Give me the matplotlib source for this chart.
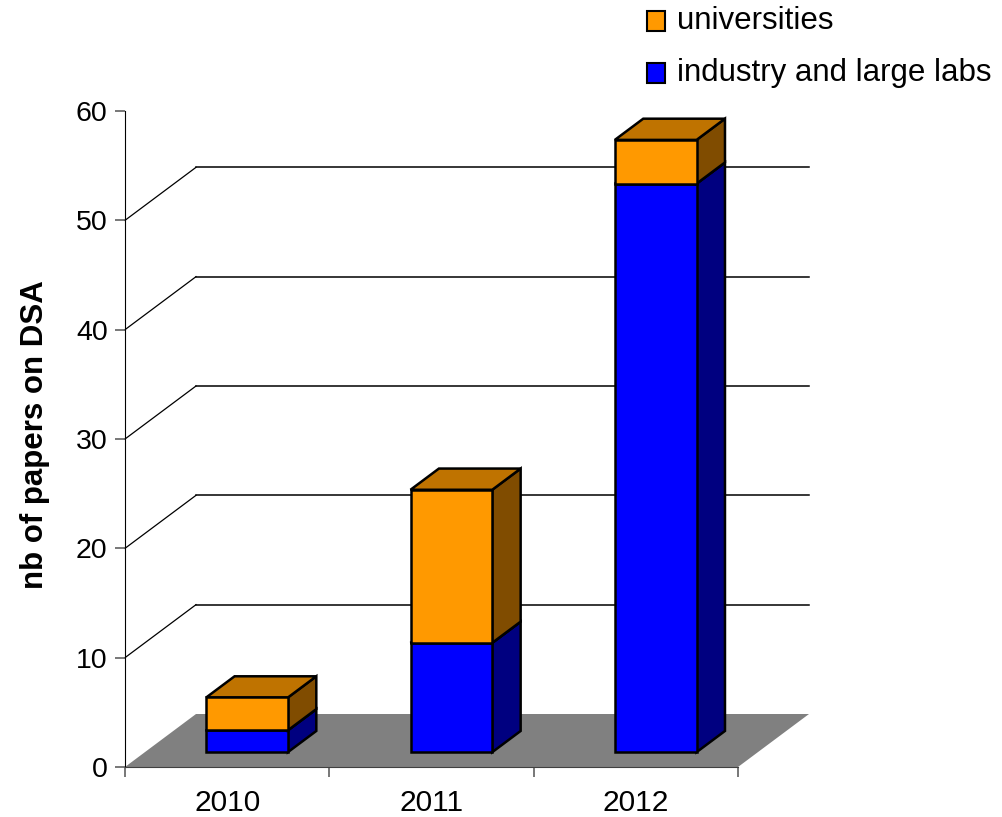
import matplotlib
matplotlib.use("Agg")
import matplotlib.pyplot as plt
from matplotlib.patches import Polygon, Rectangle

plt.rcParams['font.family'] = ['Liberation Sans', 'DejaVu Sans']

# ---- data ----
years = ['2010', '2011', '2012']
industry = [2, 10, 52]
universities = [3, 14, 4]
series_names = ['universities', 'industry and large labs']
y_ticks = [0, 10, 20, 30, 40, 50, 60]
y_label = 'nb of papers on DSA'

# ---- styles ----
front_cols = {'industry': '#0000FF', 'universities': '#FF9900'}
side_cols = {'industry': '#000080', 'universities': '#804C00'}
top_cols = {'industry': '#0000C0', 'universities': '#BF7300'}
floor_col = '#808080'

W, H = 1002, 817
fig = plt.figure(figsize=(W / 100, H / 100), dpi=100)
ax = fig.add_axes([125 / W, (H - 767) / H, 613 / W, 656 / H])
ax.set_xlim(-0.5, len(years) - 0.5)
ax.set_ylim(0, 60)

# depth projection (data units per full depth)
DX = 71 / (613 / 3)
DY = 53 / (656 / 60)
Z0, Z1 = 0.28, 0.68
BW = 0.4


def proj(x, y, z):
    return (x + z * DX, y + z * DY)


xl, xr = ax.get_xlim()
# walls gridlines
for v in y_ticks[1:-1]:
    ax.plot(*zip(proj(xl, v, 0), proj(xl, v, 1)), color='black', lw=0.9,
            clip_on=False, zorder=1)
    ax.plot(*zip(proj(xl, v, 1), proj(xr, v, 1)), color='black', lw=1.1,
            clip_on=False, zorder=1)

# floor
ax.add_patch(Polygon([proj(xl, 0, 0), proj(xr, 0, 0), proj(xr, 0, 1), proj(xl, 0, 1)],
                     closed=True, facecolor=floor_col, edgecolor='none',
                     clip_on=False, zorder=2))


def box(xc, b, t, key):
    l, r = xc - BW / 2, xc + BW / 2
    kw = dict(closed=True, edgecolor='black', lw=1.8, clip_on=False, zorder=3,
              joinstyle='miter')
    ax.add_patch(Polygon([proj(r, b, Z0), proj(r, b, Z1), proj(r, t, Z1), proj(r, t, Z0)],
                         facecolor=side_cols[key], **kw))
    ax.add_patch(Polygon([proj(l, t, Z0), proj(r, t, Z0), proj(r, t, Z1), proj(l, t, Z1)],
                         facecolor=top_cols[key], **kw))
    ax.add_patch(Polygon([proj(l, b, Z0), proj(r, b, Z0), proj(r, t, Z0), proj(l, t, Z0)],
                         facecolor=front_cols[key], **kw))


for i, (a, u) in enumerate(zip(industry, universities)):
    box(i, 0, a, 'industry')
    box(i, a, a + u, 'universities')

# axes styling
for s in ['top', 'right']:
    ax.spines[s].set_visible(False)
ax.spines['left'].set_color('black')
ax.spines['bottom'].set_color('#404040')
ax.spines['left'].set_zorder(4)
ax.spines['bottom'].set_zorder(4)
ax.set_yticks(y_ticks)
ax.set_yticklabels([str(v) for v in y_ticks])
ax.tick_params(axis='y', direction='out', length=7.5, width=1.2, color='#606060',
               labelsize=20.5, pad=5)
ax.set_xticks([i - 0.5 for i in range(len(years) + 1)])
ax.set_xticklabels([])
ax.set_xticks(range(len(years)), minor=True)
ax.set_xticklabels(years, minor=True)
ax.tick_params(axis='x', which='major', direction='out', length=7.5, width=1.2,
               color='#606060')
ax.tick_params(axis='x', which='minor', length=0, labelsize=21.5, pad=16)
ax.patch.set_alpha(0)

fig.text(35 / W, 1 - 435 / H, y_label, rotation=90, ha='center', va='center',
         fontsize=22.5, fontweight='bold')

# legend
leg_cols = [front_cols['universities'], front_cols['industry']]
for k, (name, c) in enumerate(zip(series_names, leg_cols)):
    yc = 21 + k * 52
    fig.add_artist(Rectangle((647 / W, 1 - (yc + 9.5) / H), 18 / W, 19 / H,
                             transform=fig.transFigure, facecolor=c,
                             edgecolor='black', lw=1.5))
    fig.text(677 / W, 1 - yc / H, name, ha='left', va='center', fontsize=22.5)

fig.savefig('out.png', dpi=100)
